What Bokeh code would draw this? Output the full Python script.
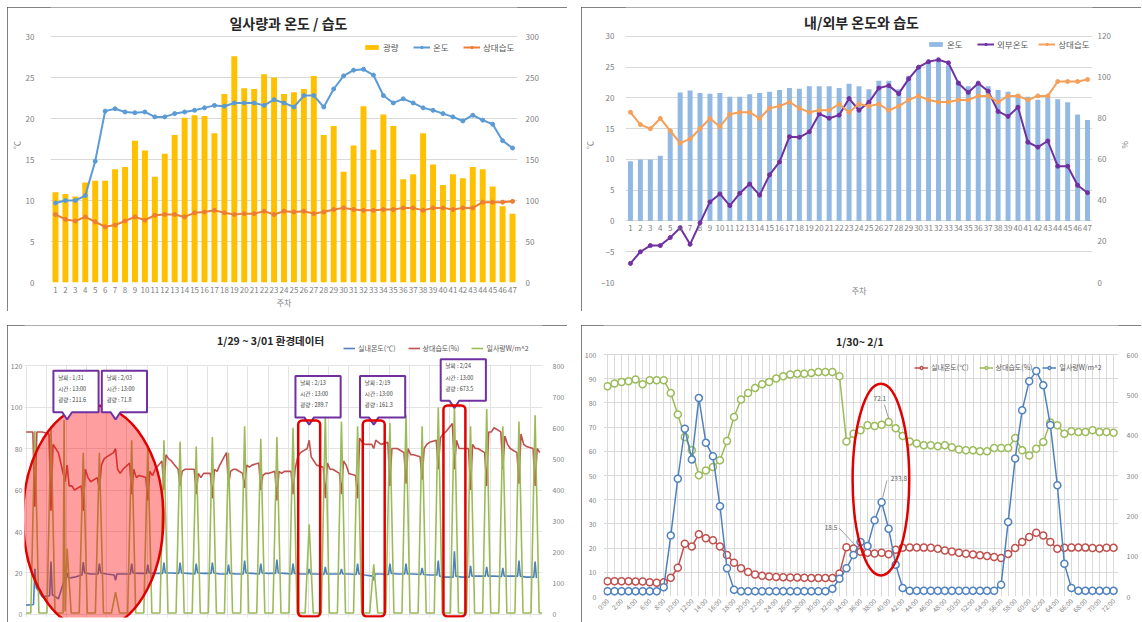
from bokeh.plotting import figure
from bokeh.models import (Range1d, LinearAxis, FixedTicker, Legend, LegendItem,
                          Label, BoxAnnotation)
from bokeh.layouts import row, column
from bokeh.embed import file_html
from bokeh.resources import INLINE

FONT = "Noto Sans CJK KR"
TICK = "#7f7f7f"
GRID = "#d9d9d9"

# ---------------- weekly data (주차 1..47) ----------------
weeks = list(range(1, 48))
light_w = [110, 108, 105, 122, 124, 124, 138, 141, 173, 161,
           129, 157, 180, 201, 204, 203, 182, 230, 276, 237,
           236, 254, 250, 230, 232, 236, 252, 180, 191, 135,
           167, 215, 162, 205, 191, 126, 132, 182, 144, 119,
           132, 127, 141, 138, 117, 93, 84]
temp_in_w = [9.7, 10.0, 10.0, 10.6, 14.8, 20.9, 21.2, 20.8, 20.7, 20.8,
             20.2, 20.2, 20.6, 20.8, 21.0, 21.3, 21.6, 21.5, 21.9, 21.9,
             21.9, 21.6, 22.3, 21.9, 21.4, 22.8, 22.8, 21.4, 23.6, 25.2,
             25.9, 26.0, 25.3, 22.8, 21.9, 22.4, 21.9, 21.3, 21.0, 20.6,
             20.2, 19.7, 20.4, 19.8, 19.3, 17.3, 16.4]
humid_w = [83, 77, 75, 80, 74, 68, 70, 75, 80, 76,
           82, 83, 83, 80, 85, 86, 88, 85, 83, 84,
           84, 87, 83, 87, 86, 87, 84, 86, 89, 91,
           89, 88, 88, 89, 89, 91, 91, 88, 91, 91,
           89, 91, 91, 98, 98, 98, 99]
temp_out_w = [-6.9, -5.0, -4.0, -4.0, -2.7, -1.1, -3.8, -0.3, 3.1, 4.4,
              2.5, 4.5, 6.0, 4.2, 7.5, 9.6, 13.7, 13.6, 14.5, 17.4,
              16.7, 17.2, 19.9, 18.0, 19.3, 21.6, 22.0, 20.7, 23.1, 25.0,
              25.9, 26.2, 25.7, 22.4, 20.9, 22.4, 21.1, 17.8, 17.0, 18.5,
              12.8, 12.0, 13.0, 8.9, 8.9, 5.8, 4.6]

# ---------------- daily readings 1/29 ~ 3/01 ----------------
days = list(range(32))
light_night = 5
light_peak = [590, 605, 211.6, 520, 520, 71.8, 560, 540, 560, 555,
              540, 570, 520, 605, 565, 570, 600, 289.7, 640, 620,
              605, 161.3, 615, 640, 605, 665, 673.5, 605, 660, 605,
              620, 640]
# additional morning readings (day, hour, W/m^2)
light_extra_day = [2, 2]
light_extra_hour = [8.5, 10]
light_extra_val = [625, 10]

temp_hours = [0, 11, 13, 15]
temp_00 = [4.5, 8.5, 7.5, 18.0, 19.5, 19.5, 19.5, 19.8, 19.8, 20.0,
           19.8, 19.8, 19.5, 19.5, 19.8, 19.8, 19.8, 19.5, 19.5, 19.5,
           19.5, 19.0, 19.5, 19.5, 19.5, 19.0, 18.0, 18.0, 18.5, 18.5,
           18.5, 18.0]
temp_11 = [4.8, 9.0, 19.0, 19.0, 19.5, 19.0, 19.5, 19.8, 19.8, 19.8,
           19.5, 19.8, 19.5, 19.5, 19.5, 19.8, 19.5, 19.5, 19.3, 19.5,
           19.3, 18.5, 19.3, 19.5, 19.3, 19.0, 18.0, 18.0, 18.5, 18.3,
           18.5, 18.0]
temp_13 = [22.0, 25.5, 20.0, 25.2, 24.5, 16.5, 24.5, 24.0, 25.0, 25.0,
           24.5, 25.0, 24.0, 26.0, 24.5, 26.5, 24.5, 22.0, 23.0, 22.0,
           24.5, 16.5, 24.5, 24.5, 22.5, 26.0, 30.5, 23.5, 23.0, 22.5,
           26.0, 25.5]
temp_15 = [13.0, 9.5, 17.5, 20.0, 20.0, 19.5, 20.0, 20.0, 20.0, 20.0,
           20.0, 20.0, 19.8, 20.0, 20.0, 20.0, 19.8, 19.5, 19.5, 19.5,
           19.5, 19.5, 19.8, 19.5, 19.3, 18.5, 18.5, 18.5, 18.5, 18.5,
           18.5, 17.5]

hum_hours = [0, 10, 13, 16, 20]
hum_00 = [88, 88, 78, 60, 64, 76, 70, 67, 70, 74, 70, 68, 72, 70, 72, 68,
          69, 78, 72, 70, 68, 82, 82, 80, 77, 83, 88, 80, 80, 90, 80, 81]
hum_10 = [88, 87, 64, 62, 66, 78, 73, 66, 74, 70, 70, 68, 78, 68, 73, 69,
          69, 80, 71, 68, 67, 82, 83, 78, 76, 84, 92, 80, 78, 88, 78, 80]
hum_13 = [52, 50, 72, 50, 60, 80, 58, 55, 60, 62, 58, 56, 62, 61, 60, 55,
          58, 84, 56, 58, 56, 80, 62, 63, 65, 70, 70, 60, 62, 70, 63, 62]
hum_16 = [88, 82, 62, 70, 72, 70, 70, 69, 77, 69, 68, 70, 69, 72, 67, 69,
          70, 76, 73, 74, 85, 84, 80, 80, 80, 85, 84, 82, 88, 86, 87, 80]
hum_20 = [88, 80, 62, 66, 75, 68, 66, 67, 75, 70, 66, 69, 70, 71, 68, 68,
          76, 74, 70, 72, 83, 83, 80, 77, 82, 87, 80, 80, 88, 82, 82, 78]

callout_day = [2, 5, 17, 21, 26]
callout_date = ["1/31", "2/03", "2/13", "2/19", "2/24"]
callout_time = "13:00"
boxed_days = [17, 21, 26]

# ---------------- hourly readings 1/30 ~ 2/1 (0:00 .. 72:00) ----------------
hours = list(range(73))
temp_h = [6.3, 6.3, 6.3, 6.3, 6.2, 6.2, 5.9, 5.7, 5.9,
          7.7, 11.9, 21.8, 20.7, 25.7, 24.1, 23.2, 20.7, 17.2, 13.9,
          11.7, 10.1, 9.1, 8.6, 8.3, 8.1, 8.0, 7.9, 7.9, 7.7,
          7.6, 7.6, 7.6, 7.6, 9.5, 20.4, 19.8,
          18.5, 18.1, 17.8, 18.1, 17.5, 19.3, 20.1, 20.3, 20.3, 20.2,
          20.1, 19.7, 19.0, 18.6, 18.1, 17.7, 17.4, 17.0, 16.7, 16.3,
          15.9, 17.6, 20.0, 22.5, 24.6, 26.3, 25.2, 22.5, 19.7, 20.1,
          20.2, 20.3, 20.2, 20.0, 19.8, 20.1, 20.1]
hum_h = [86.9, 88.0, 88.7, 89.0, 89.7, 87.7, 89.4, 89.4, 89.4,
         84.1, 75.2, 65.9, 60.4, 50.1, 52.1, 53.5, 56.3, 64.3, 74.2,
         81.4, 84.1, 86.2, 87.7, 88.7, 90.1, 91.0, 91.7, 92.1, 92.1,
         92.4, 92.8, 92.8, 92.8, 91.0, 64.1, 67.3,
         68.7, 70.8, 70.5, 71.0, 72.1, 69.5, 66.3, 64.1, 63.2, 62.5,
         62.5, 62.1, 62.5, 61.7, 60.8, 60.4, 60.4, 60.0, 60.0, 61.4,
         61.4, 61.4, 65.5, 60.4, 58.3, 61.1, 63.9, 71.9, 70.8, 67.3,
         68.3, 68.0, 68.0, 68.7, 68.0, 68.0, 67.7]
light_h = [13, 13, 13, 13, 13, 13, 13, 13,
           23,
           151, 292, 416, 340, 492, 381, 348, 224, 70, 17,
           13, 13, 13, 13, 13, 13, 13, 13, 13, 13, 13, 13, 13,
           19, 44, 70, 103,
           135, 125, 189, 233.8, 168, 79, 21, 14, 14, 14,
           14, 14, 14, 14, 14, 14, 14, 14, 14, 14,
           29, 185, 342, 462, 534, 559, 524, 425, 276, 81,
           21, 14, 14, 14, 14, 14, 14]
hour_labels = {h: f"{h}:00" for h in range(0, 73, 2)}


# ---------------- helpers ----------------
def make_fig(width, height, xr, yr, borders, right_range, **kw):
    p = figure(width=width, height=height, x_range=xr, y_range=yr,
               output_backend="svg", toolbar_location=None, frame_align=False,
               min_border_left=borders[0], min_border_right=borders[1],
               min_border_top=borders[2], min_border_bottom=borders[3], **kw)
    p.extra_y_ranges = {"r": right_range}
    p.outline_line_color = None
    p.background_fill_color = "white"
    p.border_fill_color = "white"
    p.styles = {"outline": "1px solid #595959", "outline-offset": "-1px"}
    p.xgrid.grid_line_color = None
    p.ygrid.grid_line_color = GRID
    return p


def style_axis(ax, size, standoff, label_standoff=2):
    ax.axis_line_color = None
    ax.major_tick_line_color = None
    ax.minor_tick_line_color = None
    ax.major_tick_out = 0
    ax.major_tick_in = 0
    ax.minor_tick_out = 0
    ax.minor_tick_in = 0
    ax.major_label_text_font = FONT
    ax.major_label_text_font_size = size
    ax.major_label_text_color = TICK
    ax.major_label_standoff = standoff
    ax.axis_label_text_font = FONT
    ax.axis_label_text_font_size = size
    ax.axis_label_text_font_style = "normal"
    ax.axis_label_text_color = TICK
    ax.axis_label_standoff = label_standoff


def add_text(p, x, y, s, size, color="#262626", bold=False, align="center",
             rng="default"):
    p.add_layout(Label(x=x, y=y, text=s, text_font=FONT, text_font_size=size,
                       text_color=color,
                       text_font_style="bold" if bold else "normal",
                       text_align=align, text_baseline="middle",
                       y_range_name=rng))


def add_legend(p, items, loc, size, gw, gh, spacing):
    lg = Legend(items=items, location=loc, orientation="horizontal",
                padding=0, margin=0, spacing=spacing, label_standoff=3,
                glyph_width=gw, glyph_height=gh,
                border_line_color=None, background_fill_alpha=0,
                label_text_font=FONT, label_text_font_size=size,
                label_text_color="#595959")
    p.add_layout(lg)


# ================= 1. 일사량과 온도 / 습도 =================
p1 = make_fig(560, 304, Range1d(0.5, 47.5), Range1d(0, 33.54), (41, 50, 0, 29),
              Range1d(0, 335.4))
p1.ygrid.ticker = FixedTicker(ticks=list(range(0, 31, 5)))
b1 = p1.vbar(x=weeks, top=light_w, width=0.6, y_range_name="r",
             fill_color="#FFC000", line_color=None)
l1 = p1.line(weeks, temp_in_w, line_color="#5B9BD5", line_width=2)
s1 = p1.scatter(weeks, temp_in_w, size=4, fill_color="#5B9BD5",
                line_color="#5B9BD5")
l2 = p1.line(weeks, humid_w, line_color="#ED7D31", line_width=2,
             y_range_name="r")
s2 = p1.scatter(weeks, humid_w, size=4, fill_color="#ED7D31",
                line_color="#ED7D31", y_range_name="r")
p1.yaxis.ticker = FixedTicker(ticks=list(range(0, 31, 5)))
p1.yaxis.axis_label = "℃"
style_axis(p1.yaxis[0], "8px", 16, 1)
r1 = LinearAxis(y_range_name="r", ticker=FixedTicker(ticks=list(range(0, 301, 50))))
style_axis(r1, "8px", 8)
p1.add_layout(r1, "right")
p1.xaxis.ticker = FixedTicker(ticks=weeks)
p1.xaxis.axis_label = "주차"
style_axis(p1.xaxis[0], "8px", 4, 1)
add_text(p1, 24.45, 31.7, "일사량과 온도 / 습도", "14px", bold=True)
add_legend(p1, [LegendItem(label="광량", renderers=[b1]),
                LegendItem(label="온도", renderers=[l1, s1]),
                LegendItem(label="상대습도", renderers=[l2, s2])],
           (313, 229), "8.5px", 17, 6, 10)

# ================= 2. 내/외부 온도와 습도 =================
p2 = make_fig(560, 304, Range1d(0.5, 47.5), Range1d(-10, 34.7), (42, 49, 0, 29),
              Range1d(0, 134.1))
p2.ygrid.ticker = FixedTicker(ticks=list(range(-10, 31, 5)))
b2 = p2.vbar(x=weeks, top=temp_in_w, width=0.5, fill_color="#92B9E3",
             line_color=None)
l3 = p2.line(weeks, temp_out_w, line_color="#7030A0", line_width=2)
s3 = p2.scatter(weeks, temp_out_w, size=4, fill_color="#7030A0",
                line_color="#7030A0")
l4 = p2.line(weeks, humid_w, line_color="#F4A05A", line_width=2,
             y_range_name="r")
s4 = p2.scatter(weeks, humid_w, size=4, fill_color="#F4A05A",
                line_color="#F4A05A", y_range_name="r")
p2.yaxis.ticker = FixedTicker(ticks=list(range(-10, 31, 5)))
p2.yaxis.axis_label = "℃"
style_axis(p2.yaxis[0], "8px", 11, 3)
r2 = LinearAxis(y_range_name="r", ticker=FixedTicker(ticks=list(range(0, 121, 20))),
                axis_label="%")
style_axis(r2, "8px", 5, 6)
p2.add_layout(r2, "right")
# bottom axis carries only the title; week numbers sit on the zero line
p2.xaxis.ticker = FixedTicker(ticks=[])
p2.xaxis.axis_label = "주차"
style_axis(p2.xaxis[0], "8px", 0, 2)
x2 = LinearAxis(ticker=FixedTicker(ticks=weeks), fixed_location=0)
style_axis(x2, "8px", 4)
p2.add_layout(x2, "below")
add_text(p2, 24.25, 32.3, "내/외부 온도와 습도", "14px", bold=True)
add_legend(p2, [LegendItem(label="온도", renderers=[b2]),
                LegendItem(label="외부온도", renderers=[l3, s3]),
                LegendItem(label="상대습도", renderers=[l4, s4])],
           (302, 232), "8.5px", 17, 6, 10)

# ================= 3. 1/29 ~ 3/01 환경데이터 =================
def day_series(hrs, cols):
    t, v = [], []
    for d in days:
        for h, col in zip(hrs, cols):
            t.append(d + h / 24)
            v.append(col[d])
    return t, v


lt = [0.0] + [d + h / 24 for d in days for h in (7, 13, 19)] + \
     [d + h / 24 for d, h in zip(light_extra_day, light_extra_hour)] + [31 + 23.5 / 24]
lv = [light_night] + [v for pk in light_peak for v in (light_night, pk, light_night)] + \
     light_extra_val + [light_night]
light_pts = sorted(zip(lt, lv))
light_t = [a for a, _ in light_pts]
light_v = [b for _, b in light_pts]
temp_t, temp_v = day_series(temp_hours, [temp_00, temp_11, temp_13, temp_15])
hum_t, hum_v = day_series(hum_hours, [hum_00, hum_10, hum_13, hum_16, hum_20])

p3 = make_fig(560, 297, Range1d(-0.1, 32.0), Range1d(-1.45, 139.3), (16, 24, 0, 5),
              Range1d(-9.67, 928.7), x_axis_location=None)
p3.ygrid.ticker = FixedTicker(ticks=list(range(0, 121, 20)))
p3.ygrid.grid_line_color = "#e3e3e3"
p3.xgrid.grid_line_color = "#e3e3e3"
p3.xgrid.ticker = FixedTicker(ticks=[i * 1.25 for i in range(26)])
p3.xgrid.cross_bounds = (-1.45, 120)
c_t = "#4F81BD"
c_h = "#C0504D"
c_l = "#9BBB59"
l5 = p3.line(temp_t, temp_v, line_color=c_t, line_width=1.6)
l6 = p3.line(hum_t, hum_v, line_color=c_h, line_width=1.6)
l7 = p3.line(light_t, light_v, line_color=c_l, line_width=1.6, y_range_name="r")
p3.yaxis.ticker = FixedTicker(ticks=list(range(0, 121, 20)))
style_axis(p3.yaxis[0], "7px", 2)
r3 = LinearAxis(y_range_name="r", ticker=FixedTicker(ticks=list(range(0, 801, 100))))
style_axis(r3, "7px", 10)
p3.add_layout(r3, "right")

# highlighted period and low-light days
p3.ellipse(x=[4.16], y=[46.7], width=[8.7], height=[108.4], fill_color="#FF0000",
           fill_alpha=0.38, line_color="#E00000", line_width=2.5)
for d, top in zip(boxed_days, [93.5, 93.5, 100.7]):
    xc = d + 13 / 24
    p3.add_layout(BoxAnnotation(left=xc - 0.68, right=xc + 0.68, top=top, bottom=-1.0,
                                fill_color=None, line_color="#E00000", line_alpha=1.0,
                                line_width=2.5, border_radius=4))
# callouts
for d, date, top in zip(callout_day, callout_date, [117.5, 117.5, 115, 115, 123]):
    tip = d + 13 / 24
    left, right, bottom = tip - 0.85, tip + 1.95, top - 20
    xs = [left, right, right, tip + 0.3, tip, tip - 0.3, left]
    ys = [top, top, bottom, bottom, bottom - 3.5, bottom, bottom]
    p3.patch(xs, ys, fill_color="white", line_color="#7030A0", line_width=2)
    for k, s in enumerate([f"날짜 : {date}", f"시간 : {callout_time}",
                           f"광량 : {light_peak[d]:.1f}"]):
        add_text(p3, left + 0.3, top - 3.4 - 5.4 * k, s, "5.5px", color="#404040",
                 align="left")
add_text(p3, 15.15, 132.2, "1/29 ~ 3/01 환경데이터", "10.5px", bold=True)
add_legend(p3, [LegendItem(label="실내온도(℃)", renderers=[l5]),
                LegendItem(label="상대습도(%)", renderers=[l6]),
                LegendItem(label="일사량W/m^2", renderers=[l7])],
           (319, 264), "7px", 12, 6, 12)

# ================= 4. 1/30~ 2/1 =================
p4 = make_fig(560, 297, Range1d(-0.57, 72.7), Range1d(0, 112.0), (21, 21, 0, 26),
              Range1d(0, 672))
p4.ygrid.ticker = FixedTicker(ticks=list(range(0, 101, 10)))
p4.xgrid.grid_line_color = GRID
p4.xgrid.ticker = FixedTicker(ticks=hours)
p4.xgrid.cross_bounds = (0, 100)
c4_t, c4_h, c4_l = "#C0504D", "#9BBB59", "#4F81BD"
l8 = p4.line(hours, temp_h, line_color=c4_t, line_width=1.5)
s8 = p4.scatter(hours, temp_h, size=7, fill_color="white", line_color=c4_t, line_width=1.5)
l9 = p4.line(hours, hum_h, line_color=c4_h, line_width=1.5)
s9 = p4.scatter(hours, hum_h, size=7, fill_color="white", line_color=c4_h, line_width=1.5)
l10 = p4.line(hours, light_h, line_color=c4_l, line_width=1.5, y_range_name="r")
s10 = p4.scatter(hours, light_h, size=7, fill_color="white", line_color=c4_l,
                 line_width=1.5, y_range_name="r")
p4.yaxis.ticker = FixedTicker(ticks=list(range(0, 101, 10)))
style_axis(p4.yaxis[0], "7px", 7)
r4 = LinearAxis(y_range_name="r", ticker=FixedTicker(ticks=list(range(0, 601, 100))))
style_axis(r4, "7px", 8)
p4.add_layout(r4, "right")
p4.xaxis.ticker = FixedTicker(ticks=list(range(0, 73, 2)))
p4.xaxis.major_label_overrides = hour_labels
p4.xaxis.major_label_orientation = 0.785
style_axis(p4.xaxis[0], "6.5px", 3)

# value labels with leader lines
i_h = 40
p4.line([hours[i_h] - 0.6, hours[i_h]], [hum_h[i_h] + 7.2, hum_h[i_h] + 1.4],
        line_color="#808080", line_width=0.8)
add_text(p4, hours[i_h] - 1.25, hum_h[i_h] + 9.7, f"{hum_h[i_h]}", "6.5px", color="#595959")
i_l = 39
p4.line([hours[i_l] + 0.75, hours[i_l] + 0.15], [light_h[i_l] + 54, light_h[i_l] + 11],
        line_color="#808080", line_width=0.8, y_range_name="r")
add_text(p4, hours[i_l] + 1.3, light_h[i_l] + 58, f"{light_h[i_l]}", "6.5px",
         color="#595959", align="left", rng="r")
i_t = 36
p4.line([hours[i_t] - 3.05, hours[i_t] - 0.2], [temp_h[i_t] + 9.8, temp_h[i_t] + 1.0],
        line_color="#808080", line_width=0.8)
add_text(p4, hours[i_t] - 3.3, temp_h[i_t] + 10, f"{temp_h[i_t]}", "6.5px",
         color="#595959", align="right")
p4.ellipse(x=[38.9], y=[48.3], width=[8.06], height=[79.3], fill_color=None,
           line_color="#E00000", line_width=2.5)
add_text(p4, 35.9, 105.4, "1/30~ 2/1", "10.5px", bold=True)
add_legend(p4, [LegendItem(label="실내온도(℃)", renderers=[l8, s8]),
                LegendItem(label="상대습도(%)", renderers=[l9, s9]),
                LegendItem(label="일사량W/m^2", renderers=[l10, s10])],
           (311, 224), "7px", 14, 7, 10)

page = column(row(p1, p2, spacing=14), row(p3, p4, spacing=14), spacing=14,
              margin=(7, 0, 0, 7))
open("out.html", "w").write(file_html(page, INLINE))
